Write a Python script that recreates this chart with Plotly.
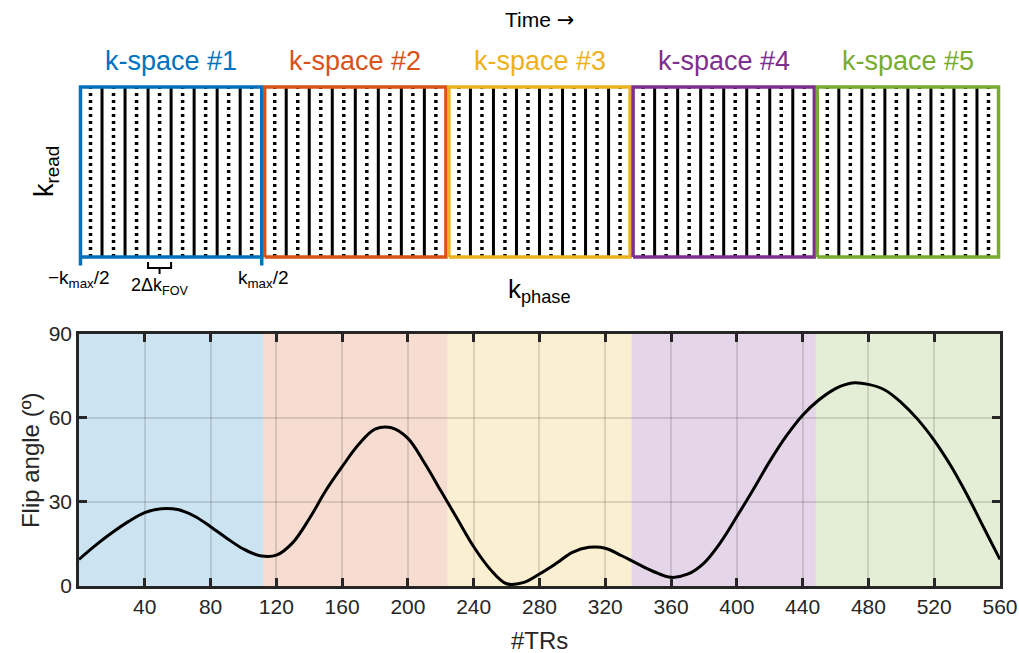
import plotly.graph_objects as go

# ---------------- data ----------------
tr = list(range(0, 561, 10))
flip = [9.5, 14.5, 19, 23, 26.2, 27.6, 27.3, 25, 21.2, 17,
        13.2, 10.8, 11, 15.5, 24, 34, 42.6, 50.5, 56, 56.5,
        52.7, 44, 34, 24, 14, 6, 0.8, 1.2, 4.3, 8,
        12, 13.8, 13.5, 10.8, 7.8, 5, 3.1, 4.2, 8.2, 15.5,
        24.8, 34.5, 44.5, 53.5, 61, 66.5, 70.5, 72.5, 72, 70,
        65.5, 59.5, 52, 43, 32.5, 21, 9.5]

kspace_names = ["k-space #1", "k-space #2", "k-space #3", "k-space #4", "k-space #5"]
kspace_colors = ["#0072BD", "#D95319", "#EDB120", "#7E2F8E", "#77AC30"]
kspace_rgb = [(0, 114, 189), (217, 83, 25), (237, 177, 32), (126, 47, 142), (119, 172, 48)]
kspace_start = [0, 112, 224, 336, 448]
kspace_width = 112
line_offsets = [7, 14, 21, 28, 35, 42, 49, 56, 63, 70, 77, 84, 91, 98, 105]
line_styles = ["dot", "solid", "dot", "solid", "dot", "solid", "dot", "solid",
               "dot", "solid", "dot", "solid", "dot", "solid", "dot"]

xticks = [40, 80, 120, 160, 200, 240, 280, 320, 360, 400, 440, 480, 520, 560]
yticks = [0, 30, 60, 90]

FONT = "Liberation Sans, Arial, sans-serif"
DARK = "#262626"

# axis geometry (top schematic panel shares the TR scale of the bottom panel)
X2_RANGE = [-5.47, 565.47]
Y2_RANGE = [-0.11, 1.04]
Y2_DOMAIN = [0.6014, 0.9802]


def x2p(x):
    return (x - X2_RANGE[0]) / (X2_RANGE[1] - X2_RANGE[0])


def y2p(y):
    return Y2_DOMAIN[0] + (y - Y2_RANGE[0]) / (Y2_RANGE[1] - Y2_RANGE[0]) * (Y2_DOMAIN[1] - Y2_DOMAIN[0])


fig = go.Figure()

# ---------------- bottom panel ----------------
shapes = []
for s, rgb in zip(kspace_start, kspace_rgb):
    shapes.append(dict(type="rect", xref="x", yref="y", x0=s, x1=s + kspace_width,
                       y0=0, y1=90, layer="below", line=dict(width=0),
                       fillcolor="rgba(%d,%d,%d,0.2)" % rgb))

fig.add_trace(go.Scatter(x=tr, y=flip, mode="lines",
                         line=dict(color="black", width=3, shape="spline", smoothing=1.0),
                         xaxis="x", yaxis="y", showlegend=False, hoverinfo="skip"))

# ---------------- top panel ----------------
for s in kspace_start:
    for style in ("solid", "dot"):
        xs, ys = [], []
        for off, st in zip(line_offsets, line_styles):
            if st == style:
                xs += [s + off, s + off, None]
                ys += [0, 1, None]
        fig.add_trace(go.Scatter(
            x=xs, y=ys, mode="lines", xaxis="x2", yaxis="y2", showlegend=False,
            hoverinfo="skip",
            line=dict(color="black", width=3 if style == "solid" else 3.5,
                      dash="solid" if style == "solid" else "3px,4px")))

inset = 0.9
for i, (s, c) in enumerate(zip(kspace_start, kspace_colors)):
    x0, x1 = s + inset, s + kspace_width - inset
    xs = [x0, x1, x1, x0, x0]
    ys = [0, 0, 1, 1, 0]
    if i == 0:
        xs += [None, x0, x0, None, x1, x1]
        ys += [None, 0, -0.05, None, 0, -0.05]
    fig.add_trace(go.Scatter(x=xs, y=ys, mode="lines", xaxis="x2", yaxis="y2",
                             showlegend=False, hoverinfo="skip",
                             line=dict(color=c, width=3.5)))

# brace marking 2*delta k_FOV (between two solid lines of k-space #1)
bl, bc, br = line_offsets[5], line_offsets[6], line_offsets[7]
fig.add_trace(go.Scatter(x=[bl, bl, br, br, None, bc, bc],
                         y=[-0.03, -0.065, -0.065, -0.03, None, -0.065, -0.1],
                         mode="lines", xaxis="x2", yaxis="y2", showlegend=False,
                         hoverinfo="skip", line=dict(color="black", width=2)))

# ---------------- annotations ----------------
ann = []


def add_text(x, y, text, size, color="black", angle=0):
    ann.append(dict(x=x, y=y, xref="paper", yref="paper", text=text, showarrow=False,
                    xanchor="center", yanchor="middle", textangle=angle,
                    font=dict(size=size, color=color, family=FONT)))


for s, name, c in zip(kspace_start, kspace_names, kspace_colors):
    add_text(x2p(s + kspace_width / 2), y2p(1.153), name, 27, c)
add_text(x2p(280), y2p(1.394),
         "Time <span style=\"font-family:'DejaVu Sans'\">\u2192</span>", 21)
add_text(x2p(-20), y2p(0.5), "k<sub>read</sub>", 27, angle=-90)
add_text(x2p(0), y2p(-0.13), "\u2212k<sub>max</sub>/2", 19)
add_text(x2p(kspace_width), y2p(-0.13), "k<sub>max</sub>/2", 19)
add_text(x2p(bc), y2p(-0.176), "2\u0394k<sub>FOV</sub>", 18)
add_text(x2p(280), y2p(-0.2), "k<sub>phase</sub>", 26)
add_text(-0.0426, 0.244, "Flip angle (\u00ba)", 24, DARK, angle=-90)
add_text(0.5005, -0.1047, "#TRs", 24, DARK)

axis_common = dict(showline=True, linecolor=DARK, linewidth=2.5, mirror="ticks",
                   ticks="inside", ticklen=8, tickwidth=2.5, tickcolor=DARK,
                   showgrid=True, gridcolor="rgba(38,38,38,0.15)", gridwidth=2,
                   zeroline=False, tickfont=dict(size=21, color=DARK, family=FONT))

fig.update_layout(
    width=1019, height=653,
    margin=dict(l=70, r=10, t=70, b=67),
    paper_bgcolor="white", plot_bgcolor="rgba(0,0,0,0)",
    shapes=shapes, annotations=ann, showlegend=False,
    xaxis=dict(domain=[0.00958, 0.9904], range=[0, 560], anchor="y",
               tickvals=xticks, automargin=False, **axis_common),
    yaxis=dict(domain=[0, 0.4884], range=[0, 90], anchor="x",
               tickvals=yticks, automargin=False, **axis_common),
    xaxis2=dict(domain=[0, 1], range=X2_RANGE, anchor="y2", visible=False),
    yaxis2=dict(domain=Y2_DOMAIN, range=Y2_RANGE, anchor="x2", visible=False),
)

fig.write_html(
    "out.html",
    config={"displayModeBar": False},
    post_script="document.body.style.margin='0';"
                "document.documentElement.style.overflow='hidden';",
)
